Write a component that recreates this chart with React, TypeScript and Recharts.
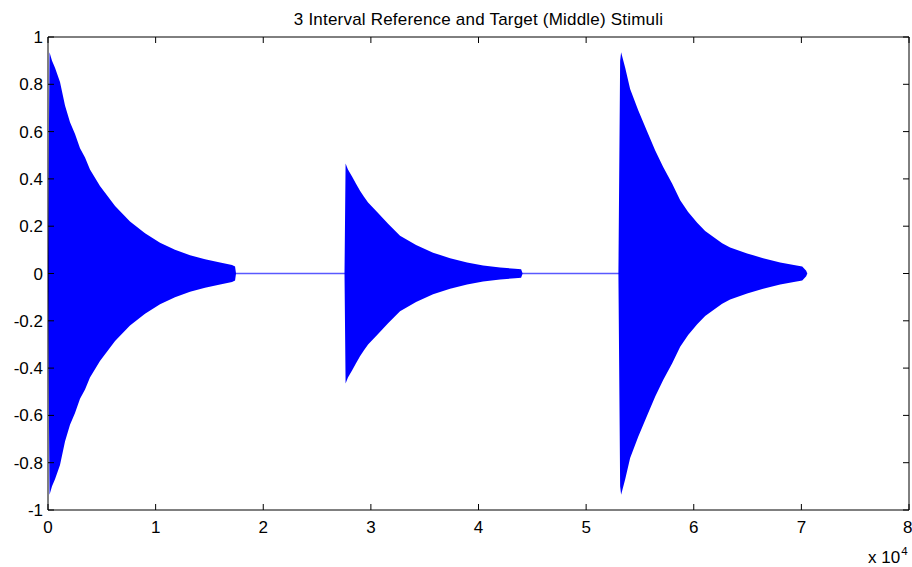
import { ComposedChart, Area, Line, XAxis, YAxis } from 'recharts';

// sample index and envelope amplitude for each of the three tones
const burst1X = [0, 140, 372, 650, 1115, 1580, 2045, 2510, 2975, 3440, 3900, 4830, 6230, 7620, 9015, 10410, 11800, 13200, 14590, 15990, 17100, 17380, 17470];
const burst1Amp = [0.06, 0.935, 0.9, 0.87, 0.81, 0.71, 0.64, 0.59, 0.53, 0.49, 0.44, 0.37, 0.285, 0.22, 0.17, 0.13, 0.1, 0.077, 0.06, 0.046, 0.036, 0.03, 0];

const burst2X = [27550, 27650, 27870, 28250, 28620, 28990, 29360, 29740, 30580, 31600, 32710, 34200, 35780, 37360, 38940, 40430, 42010, 43400, 43960, 44100];
const burst2Amp = [0, 0.465, 0.44, 0.41, 0.38, 0.35, 0.325, 0.3, 0.26, 0.21, 0.16, 0.12, 0.088, 0.065, 0.046, 0.034, 0.025, 0.02, 0.018, 0];

const burst3X = [53000, 53160, 53250, 53630, 54090, 54840, 55670, 56420, 57160, 58000, 58740, 59480, 60320, 61060, 61800, 62640, 63380, 64960, 66450, 68030, 69430, 70080, 70450, 70540];
const burst3Amp = [0, 0.9, 0.935, 0.87, 0.78, 0.69, 0.6, 0.52, 0.45, 0.38, 0.31, 0.26, 0.215, 0.18, 0.155, 0.128, 0.11, 0.085, 0.065, 0.047, 0.035, 0.03, 0.012, 0];

const xTicks = [0, 10000, 20000, 30000, 40000, 50000, 60000, 70000, 80000];
const yTicks = [-1, -0.8, -0.6, -0.4, -0.2, 0, 0.2, 0.4, 0.6, 0.8, 1];

const title = '3 Interval Reference and Target (Middle) Stimuli';

const toRows = (xs: number[], amps: number[]) =>
  xs.map((x, i) => ({ x, band: [-amps[i], amps[i]], mid: 0 }));

const data = [
  ...toRows(burst1X, burst1Amp),
  ...toRows(burst2X, burst2Amp),
  ...toRows(burst3X, burst3Amp),
];

const font = '"Liberation Sans", Arial, Helvetica, sans-serif';
const tickStyle = { fontSize: 17, fill: '#000', fontFamily: font };
const axisLine = { stroke: '#000', strokeWidth: 1 };

export default function App() {
  return (
    <div style={{ position: 'absolute', left: 0, top: 0, width: 912, height: 567, background: '#fff', fontFamily: font }}>
      <div
        style={{
          position: 'absolute',
          left: 48,
          width: 861,
          top: 11,
          textAlign: 'center',
          fontSize: 17,
          lineHeight: '17px',
          letterSpacing: 0.2,
          color: '#000',
        }}
      >
        {title}
      </div>
      <ComposedChart width={912} height={567} data={data} margin={{ top: 0, right: 0, bottom: 0, left: 0 }}>
        <XAxis
          xAxisId="b"
          dataKey="x"
          type="number"
          domain={[0, 80000]}
          ticks={xTicks}
          tickFormatter={(v: number) => String(v / 10000)}
          height={57}
          tickSize={-6}
          tickMargin={17}
          axisLine={axisLine}
          tickLine={axisLine}
          tick={tickStyle}
          allowDataOverflow
        />
        <XAxis
          xAxisId="t"
          dataKey="x"
          orientation="top"
          type="number"
          domain={[0, 80000]}
          ticks={xTicks}
          tickFormatter={() => ''}
          height={37}
          tickSize={-6}
          axisLine={axisLine}
          tickLine={axisLine}
          allowDataOverflow
        />
        <YAxis
          yAxisId="l"
          type="number"
          domain={[-1, 1]}
          ticks={yTicks}
          tickFormatter={(v: number) => String(v)}
          width={48}
          tickSize={-6}
          tickMargin={11}
          axisLine={axisLine}
          tickLine={axisLine}
          tick={tickStyle}
          allowDataOverflow
        />
        <YAxis
          yAxisId="r"
          orientation="right"
          type="number"
          domain={[-1, 1]}
          ticks={yTicks}
          tickFormatter={() => ''}
          width={3}
          tickSize={-6}
          axisLine={axisLine}
          tickLine={axisLine}
          allowDataOverflow
        />
        <Area
          xAxisId="b"
          yAxisId="l"
          type="linear"
          dataKey="band"
          stroke="none"
          fill="#0000ff"
          fillOpacity={1}
          dot={false}
          activeDot={false}
          isAnimationActive={false}
        />
        {/* silent stretches between the tones */}
        <Line
          xAxisId="b"
          yAxisId="l"
          type="linear"
          dataKey="mid"
          stroke="#0000ff"
          strokeOpacity={0.65}
          strokeWidth={1.4}
          dot={false}
          activeDot={false}
          isAnimationActive={false}
        />
      </ComposedChart>
      <div style={{ position: 'absolute', left: 868, top: 549, fontSize: 17, lineHeight: '17px', color: '#000', whiteSpace: 'nowrap' }}>
        x 10
        <span style={{ position: 'relative', top: -8, fontSize: 11.5, marginLeft: 1 }}>4</span>
      </div>
    </div>
  );
}
